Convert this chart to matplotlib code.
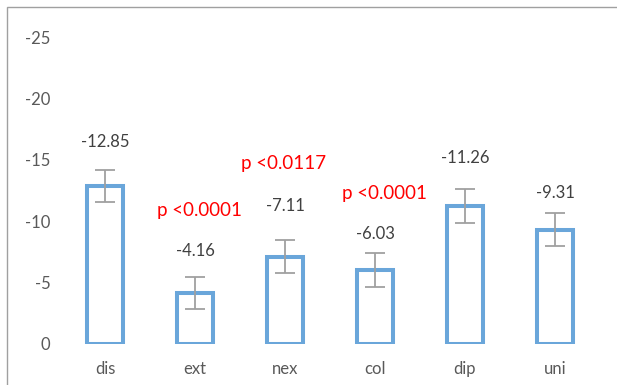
import matplotlib.pyplot as plt
from matplotlib.patches import Rectangle

CATEGORIES = ["dis", "ext", "nex", "col", "dip", "uni"]
VALUES = [-12.85, -4.16, -7.11, -6.03, -11.26, -9.31]
ERRORS = [1.3, 1.3, 1.35, 1.35, 1.4, 1.35]
VALUE_LABELS = ["-12.85", "-4.16", "-7.11", "-6.03", "-11.26", "-9.31"]
Y_TICKS = [0, -5, -10, -15, -20, -25]

# p-value annotations: (x position in category units, text)
P_TEXTS = ["p <0.0001", "p <0.0117", "p <0.0001"]
P_X = [1.05, 1.98, 3.1]

# label heights (manually placed in original)
LABEL_Y = [-16.45, -7.57, -11.24, -8.96, -15.15, -12.3]
P_Y = [-10.9, -14.7, -12.3]

plt.rcParams['font.family'] = ['Lato', 'DejaVu Sans']

fig = plt.figure(figsize=(6.17, 3.85), dpi=100)
ax = fig.add_axes([60 / 617, 41 / 385, 540 / 617, 324 / 385])

x = list(range(len(CATEGORIES)))
ax.bar(x, VALUES, width=0.39, facecolor="white", edgecolor="#6AA6DA", linewidth=2.9, zorder=2)
ax.errorbar(x, VALUES, yerr=ERRORS, fmt="none", ecolor="#A0A0A0", elinewidth=1.3,
            capsize=7, capthick=1.3, zorder=3)

for i in x:
    ax.text(i, LABEL_Y[i], VALUE_LABELS[i], ha="center", va="center", fontsize=12, color="#404040")

for px, py, t in zip(P_X, P_Y, P_TEXTS):
    ax.text(px, py, t, ha="center", va="center", fontsize=13.5, color="#FF0000")

ax.set_xlim(-0.5, 5.5)
ax.set_ylim(0, -26.4)
ax.set_yticks(Y_TICKS)
ax.set_yticklabels([str(t) for t in Y_TICKS])
ax.set_xticks(x)
ax.set_xticklabels(CATEGORIES)
ax.tick_params(axis="both", length=0, labelsize=12, colors="#595959")
ax.tick_params(axis="y", pad=7)
ax.tick_params(axis="x", pad=12)
for s in ax.spines.values():
    s.set_visible(False)

# outer chart frame
fig.patches.append(Rectangle((7 / 617, -0.1), 1.2, 1.1 - 7 / 385,
                             transform=fig.transFigure, fill=False,
                             edgecolor="#A0A0A0", linewidth=1.0))

fig.savefig("out.png", dpi=100)
